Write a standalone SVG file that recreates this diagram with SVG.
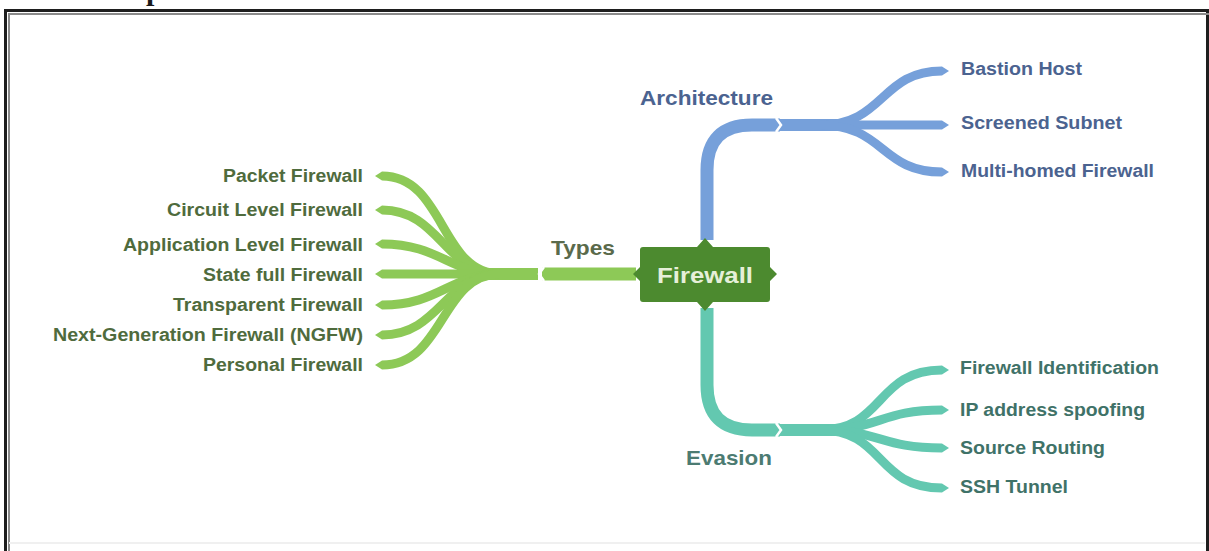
<svg xmlns="http://www.w3.org/2000/svg" width="1209" height="551" viewBox="0 0 1209 551">
<defs>
<style>
.leaf{font-family:"Liberation Sans",Arial,sans-serif;font-weight:bold;font-size:18px}
.br{font-family:"Liberation Sans",Arial,sans-serif;font-weight:bold;font-size:21px}
.g{fill:#4f6b3d}.b{fill:#4b6390}.t{fill:#3f7268}
.lg{stroke:#8dc957;fill:none}.lb{stroke:#76a0da;fill:none}.lt{stroke:#63c8b0;fill:none}
.notch{stroke:#ffffff;stroke-width:2.5;fill:none}
</style>
<marker id="tipG" markerUnits="userSpaceOnUse" markerWidth="12" markerHeight="12" refX="0" refY="6" orient="auto" viewBox="0 0 12 12"><path d="M0,1.5 L7,6 L0,10.5 Z" fill="#8dc957"/></marker>
<marker id="tipB" markerUnits="userSpaceOnUse" markerWidth="12" markerHeight="12" refX="0" refY="6" orient="auto" viewBox="0 0 12 12"><path d="M0,1.5 L7,6 L0,10.5 Z" fill="#76a0da"/></marker>
<marker id="tipT" markerUnits="userSpaceOnUse" markerWidth="12" markerHeight="12" refX="0" refY="6" orient="auto" viewBox="0 0 12 12"><path d="M0,1.5 L7,6 L0,10.5 Z" fill="#63c8b0"/></marker>
</defs>
<rect width="1209" height="551" fill="#ffffff"/>
<text x="146" y="0" font-family="'Liberation Serif',serif" font-weight="bold" font-size="30" fill="#1a1a1a">p</text>
<g id="frame" fill="none">
<path d="M5.5,551 L5.5,10.5 L1207.5,10.5 L1207.5,551" stroke="#1e1e1e" stroke-width="3"/>
<path d="M9,551 L9,14 L1209,14" stroke="#8a8a8a" stroke-width="2"/>
<path d="M9,543 L1205,543" stroke="#f0f0f0" stroke-width="2"/>
</g>
<g id="connectors">
<!-- Types -->
<path class="lg" stroke-width="13" d="M636,274 L542,274"/>
<path class="lg" stroke-width="12" d="M538,274 L480,274"/>
<g stroke-width="9" class="lg">
<path class="lg" marker-end="url(#tipG)" d="M500,274 C440,274 445,176 382,176"/>
<path class="lg" marker-end="url(#tipG)" d="M500,274 C445,274 440,210 382,210"/>
<path class="lg" marker-end="url(#tipG)" d="M500,274 C450,274 440,244 382,244"/>
<path class="lg" marker-end="url(#tipG)" d="M500,274 L382,274"/>
<path class="lg" marker-end="url(#tipG)" d="M500,274 C450,274 440,305 382,305"/>
<path class="lg" marker-end="url(#tipG)" d="M500,274 C445,274 440,335 382,335"/>
<path class="lg" marker-end="url(#tipG)" d="M500,274 C440,274 445,365 382,365"/>
</g>
<path class="notch" d="M544,267 L539,274 L544,281"/>
<!-- Architecture -->
<path class="lb" stroke-width="13" d="M707,240 L707,170 Q707,125 752,125 L780,125"/>
<path class="lb" stroke-width="12" d="M780,125 L840,125"/>
<path class="lb" stroke-width="9" marker-end="url(#tipB)" d="M820,125 C885,125 880,71 942,71"/>
<path class="lb" stroke-width="9" marker-end="url(#tipB)" d="M820,125 L942,125"/>
<path class="lb" stroke-width="9" marker-end="url(#tipB)" d="M820,125 C885,125 880,172 942,172"/>
<path class="notch" d="M776,118 L781,125 L776,132"/>
<!-- Evasion -->
<path class="lt" stroke-width="13" d="M707,308 L707,385 Q707,430 752,430 L780,430"/>
<path class="lt" stroke-width="12" d="M780,430 L840,430"/>
<path class="lt" stroke-width="9" marker-end="url(#tipT)" d="M820,430 C885,430 875,370 942,370"/>
<path class="lt" stroke-width="9" marker-end="url(#tipT)" d="M820,430 C880,430 880,410 942,410"/>
<path class="lt" stroke-width="9" marker-end="url(#tipT)" d="M820,430 C880,430 880,448 942,448"/>
<path class="lt" stroke-width="9" marker-end="url(#tipT)" d="M820,430 C885,430 875,488 942,488"/>
<path class="notch" d="M776,423 L781,430 L776,437"/>
</g>
<g id="node-firewall">
<path d="M643,247 L697,247 L705,238 L713,247 L767,247 Q770,247 770,250 L770,267 L777,274 L770,281 L770,299 Q770,302 767,302 L713,302 L705,311 L697,302 L643,302 Q640,302 640,299 L640,281 L633,274 L640,267 L640,250 Q640,247 643,247 Z" fill="#4c8a2f"/>
<text x="705" y="283" text-anchor="middle" font-family="'Liberation Sans',Arial,sans-serif" font-weight="bold" font-size="22" fill="#e6efd9" textLength="96" lengthAdjust="spacingAndGlyphs">Firewall</text>
</g>
<g id="node-types"><text class="br g" x="551" y="255" textLength="64" lengthAdjust="spacingAndGlyphs" style="fill:#5a6a4b">Types</text></g>
<g id="node-architecture"><text class="br b" x="640" y="105" textLength="133" lengthAdjust="spacingAndGlyphs">Architecture</text></g>
<g id="node-evasion"><text class="br t" x="686" y="465" textLength="86" lengthAdjust="spacingAndGlyphs" style="fill:#4c7b72">Evasion</text></g>
<g id="node-packet"><text class="leaf g" x="223" y="182" textLength="140" lengthAdjust="spacingAndGlyphs">Packet Firewall</text></g>
<g id="node-circuit"><text class="leaf g" x="167" y="216" textLength="196" lengthAdjust="spacingAndGlyphs">Circuit Level Firewall</text></g>
<g id="node-application"><text class="leaf g" x="123" y="251" textLength="240" lengthAdjust="spacingAndGlyphs">Application Level Firewall</text></g>
<g id="node-statefull"><text class="leaf g" x="203" y="281" textLength="160" lengthAdjust="spacingAndGlyphs">State full Firewall</text></g>
<g id="node-transparent"><text class="leaf g" x="173" y="311" textLength="190" lengthAdjust="spacingAndGlyphs">Transparent Firewall</text></g>
<g id="node-ngfw"><text class="leaf g" x="53" y="341" textLength="310" lengthAdjust="spacingAndGlyphs">Next-Generation Firewall (NGFW)</text></g>
<g id="node-personal"><text class="leaf g" x="203" y="371" textLength="160" lengthAdjust="spacingAndGlyphs">Personal Firewall</text></g>
<g id="node-bastion"><text class="leaf b" x="961" y="75" textLength="121" lengthAdjust="spacingAndGlyphs">Bastion Host</text></g>
<g id="node-screened"><text class="leaf b" x="961" y="129" textLength="161" lengthAdjust="spacingAndGlyphs">Screened Subnet</text></g>
<g id="node-multihomed"><text class="leaf b" x="961" y="177" textLength="193" lengthAdjust="spacingAndGlyphs">Multi-homed Firewall</text></g>
<g id="node-identification"><text class="leaf t" x="960" y="374" textLength="199" lengthAdjust="spacingAndGlyphs">Firewall Identification</text></g>
<g id="node-spoofing"><text class="leaf t" x="960" y="416" textLength="185" lengthAdjust="spacingAndGlyphs">IP address spoofing</text></g>
<g id="node-routing"><text class="leaf t" x="960" y="454" textLength="145" lengthAdjust="spacingAndGlyphs">Source Routing</text></g>
<g id="node-ssh"><text class="leaf t" x="960" y="493" textLength="108" lengthAdjust="spacingAndGlyphs">SSH Tunnel</text></g>
</svg>
